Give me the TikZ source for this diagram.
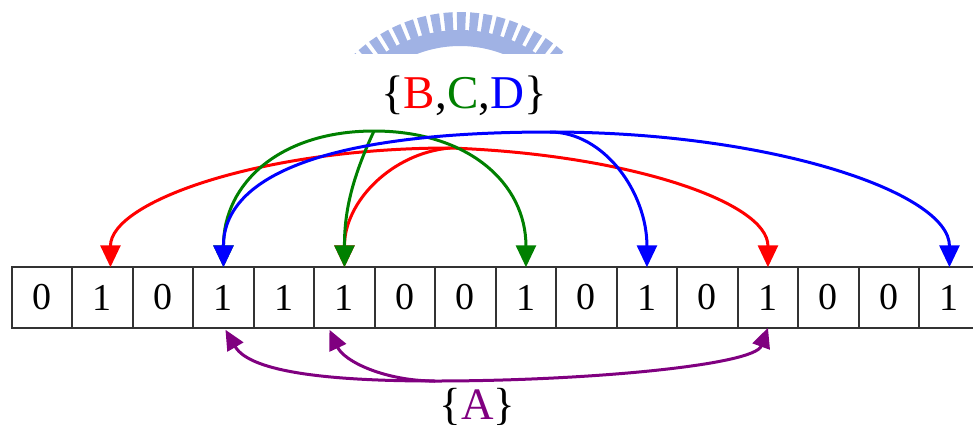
\documentclass[tikz,border=0pt]{standalone}
\usepackage{fontspec}
\setmainfont{Liberation Serif}
\usetikzlibrary{arrows.meta,calc}
\definecolor{dgreen}{RGB}{0,128,0}
\definecolor{dpurple}{RGB}{128,0,128}
\definecolor{wmblue}{RGB}{160,178,228}
\begin{document}
\begin{tikzpicture}[x=1pt,y=1pt,
  cell/.style={draw=black!80, line width=2pt, minimum width=60.5pt, minimum height=60.5pt,
    inner sep=0pt, outer sep=0pt, font=\fontsize{38}{42}\selectfont},
  lbl/.style={anchor=base, inner sep=0pt, font=\fontsize{47}{50}\selectfont},
  carc/.style={line width=3pt, -{Triangle[length=22pt,width=20pt]}},
  parc/.style={line width=3pt, draw=dpurple, -{Triangle[length=20pt,width=18pt]}},
  wm/.style={fill=wmblue}
]
\path[use as bounding box] (0,0) rectangle (973,-432);
\clip (0,0) rectangle (973,-432);

% watermark (partial logo)
\begin{scope}
  \clip (0,0) rectangle (973,-53);
  \begin{scope}[shift={(460,-166)}]
    \fill[wm] (40:120) arc[start angle=40,end angle=140,radius=120] -- (140:136)
      arc[start angle=140,end angle=40,radius=136] -- cycle;
    \foreach \a in {44.5,49.5,...,136}
      \fill[wm] (\a-1.7:134) -- (\a-1.7:154) -- (\a+1.7:154) -- (\a+1.7:134) -- cycle;
  \end{scope}
\end{scope}

% cells
\foreach \d [count=\i from 0] in {0,1,0,1,1,1,0,0,1,0,1,0,1,0,0,1}
  \node[cell] (c\i) at ({11.7+60.5*(\i+0.5)},-297.5) {\d};

% labels
\node[lbl] (bcd) at (464,-108) {\{{\color{red}B},{\color{dgreen}C},{\color{blue}D}\}};
\node[lbl,font=\fontsize{45}{50}\selectfont] (a) at (477.5,-419) {\{{\color{dpurple}A}\}};

% sources and offset targets
\coordinate (rs) at (450,-148);
\coordinate (gs) at (374,-131);
\coordinate (bs) at (550,-132);
\coordinate (ps) at (435,-381);
\coordinate (t1) at ($(c1.north)+(8,0)$);
\coordinate (p5) at ($(c5.south)+(-15,-2)$);
\coordinate (p3) at ($(c3.south)+(2,-2)$);

% red
\draw[carc,red] (rs) to[out=180,in=90,out distance=187,in distance=66] (t1);
\draw[carc,red] (rs) to[out=185,in=90,out distance=58,in distance=66] (c5.north);
\draw[carc,red] (rs) to[out=-2,in=90,out distance=175,in distance=66] (c12.north);
% green
\draw[carc,dgreen] (gs) to[out=180,in=90,out distance=94,in distance=84] (c3.north);
\draw[carc,dgreen] (gs) to[out=245,in=90] (c5.north);
\draw[carc,dgreen] (gs) to[out=0,in=90,out distance=94,in distance=84] (c8.north);
% blue
\draw[carc,blue] (bs) to[out=180,in=90,out distance=222,in distance=92] (c3.north);
\draw[carc,blue] (bs) to[out=0,in=90,out distance=54,in distance=75] (c10.north);
\draw[carc,blue] (bs) to[out=0,in=90,out distance=220,in distance=75] (c15.north);
% purple
\draw[parc] (ps) to[out=180,in=-60,out distance=100,in distance=50] (p3);
\draw[parc] (ps) to[out=180,in=-65,out distance=50,in distance=35] (p5);
\draw[parc] (ps) to[out=0,in=-110,out distance=150,in distance=40] (c12.south);
\end{tikzpicture}
\end{document}
